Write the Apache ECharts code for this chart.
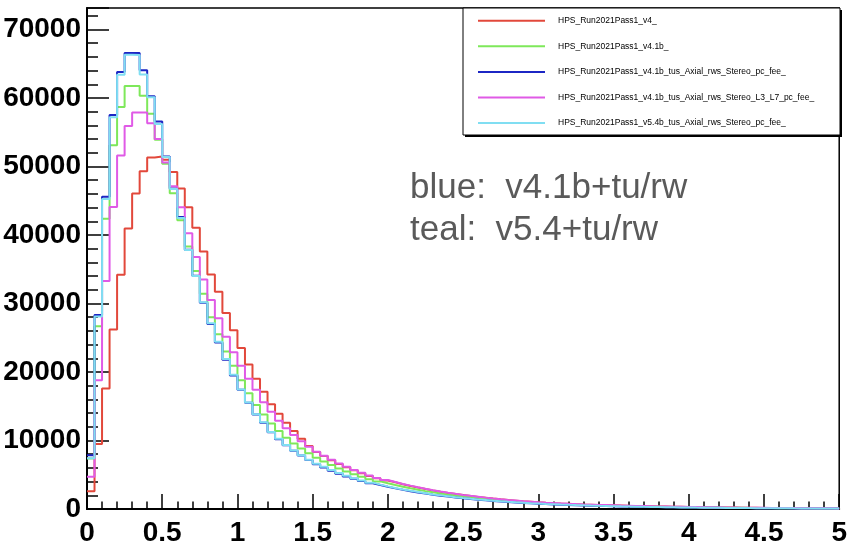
<!DOCTYPE html>
<html>
<head>
<meta charset="utf-8">
<script src="https://cdn.jsdelivr.net/npm/echarts@6/dist/echarts.min.js"></script>
<style>
html,body{margin:0;padding:0;background:#fff;}
#chart{width:850px;height:547px;}
</style>
</head>
<body>
<div id="chart"></div>
<script>
// Histogram: 100 bins of width 0.05 from 0 to 5
const binWidth = 0.05;
const xTicks = [0, 0.5, 1, 1.5, 2, 2.5, 3, 3.5, 4, 4.5, 5];
const yTicks = [0, 10000, 20000, 30000, 40000, 50000, 60000, 70000];

const seriesNames = [
  "HPS_Run2021Pass1_v4_",
  "HPS_Run2021Pass1_v4.1b_",
  "HPS_Run2021Pass1_v4.1b_tus_Axial_rws_Stereo_pc_fee_",
  "HPS_Run2021Pass1_v4.1b_tus_Axial_rws_Stereo_L3_L7_pc_fee_",
  "HPS_Run2021Pass1_v5.4b_tus_Axial_rws_Stereo_pc_fee_"
];

const redV4 = [
  2600, 9500, 17600, 26200, 34200, 40950, 46050, 49300, 51300, 51450,
  51000, 49200, 46800, 44050, 41050, 37600, 34250, 31700, 28600, 26100,
  23500, 21100, 19000, 17100, 15300, 13900, 12600, 11400, 10250, 9200,
  8330, 7720, 7120, 6580, 6090, 5640, 5220, 4830, 4480, 4170,
  3900, 3620, 3370, 3130, 2910, 2700, 2510, 2340, 2180, 2030,
  1890, 1760, 1640, 1520, 1410, 1310, 1220, 1130, 1050, 970,
  900, 845, 795, 750, 705, 665, 630, 595, 565, 535,
  505, 475, 450, 425, 400, 375, 355, 335, 315, 295,
  275, 260, 245, 230, 218, 205, 193, 182, 172, 162,
  152, 143, 135, 127, 120, 113, 106, 100, 94, 88
];

const greenV41b = [
  7380, 26670, 42380, 53100, 58670, 61760, 61760, 60330, 57710, 53900,
  50400, 46100, 42140, 38330, 34760, 31430, 28000, 25500, 23000, 20900,
  18800, 16900, 15200, 13800, 12500, 11400, 10400, 9550, 8850, 8150,
  7500, 6950, 6420, 5930, 5490, 5080, 4700, 4350, 4030, 3750,
  3490, 3250, 3020, 2810, 2610, 2430, 2260, 2100, 1960, 1830,
  1700, 1580, 1470, 1370, 1275, 1185, 1100, 1020, 950, 880,
  820, 768, 720, 676, 635, 597, 562, 528, 497, 468,
  440, 414, 390, 367, 345, 325, 306, 288, 271, 255,
  240, 226, 213, 200, 188, 177, 167, 157, 148, 139,
  131, 123, 116, 109, 103, 97, 91, 86, 81, 76
];

const blueV41bTus = [
  7860, 28330, 45570, 57520, 63810, 66570, 66570, 64050, 60240, 56570,
  51450, 46800, 42620, 37860, 34050, 30100, 27000, 24300, 21800, 19500,
  17400, 15500, 13800, 12600, 11200, 10200, 9300, 8500, 7800, 7150,
  6550, 6050, 5580, 5150, 4760, 4400, 4070, 3770, 3490, 3240,
  3010, 2800, 2600, 2420, 2250, 2090, 1950, 1810, 1690, 1570,
  1460, 1360, 1270, 1180, 1100, 1025, 955, 890, 830, 775,
  720, 675, 632, 592, 555, 520, 488, 458, 430, 404,
  379, 356, 334, 314, 295, 277, 260, 244, 229, 215,
  202, 190, 179, 168, 158, 149, 140, 132, 124, 117,
  110, 103, 97, 91, 86, 81, 76, 72, 68, 64
];

const magentaL3L7 = [
  4700, 18800, 33300, 44100, 51600, 55900, 57900, 57900, 56300, 54000,
  50600, 47100, 44050, 40250, 36800, 33500, 30500, 27850, 25150, 22900,
  20900, 19000, 17400, 15600, 14200, 12900, 11800, 10800, 9900, 9100,
  8350, 7760, 7180, 6640, 6150, 5700, 5280, 4890, 4540, 4220,
  3940, 3660, 3410, 3170, 2950, 2740, 2550, 2370, 2210, 2060,
  1920, 1790, 1660, 1540, 1430, 1330, 1240, 1150, 1070, 990,
  920, 860, 810, 760, 715, 675, 638, 602, 570, 540,
  510, 482, 455, 430, 405, 382, 360, 340, 320, 300,
  282, 265, 250, 235, 222, 209, 197, 186, 175, 165,
  155, 146, 138, 130, 122, 115, 108, 102, 96, 90
];

const tealV54bTus = [
  7400, 28100, 45240, 57200, 63400, 66300, 66290, 63430, 60100, 56200,
  51400, 46700, 42500, 37800, 34000, 30200, 27100, 24400, 21900, 19600,
  17450, 15550, 13850, 12650, 11250, 10250, 9350, 8550, 7850, 7200,
  6600, 6170, 5690, 5250, 4860, 4490, 4150, 3850, 3560, 3300,
  3070, 2860, 2650, 2470, 2300, 2130, 1990, 1850, 1720, 1600,
  1490, 1390, 1300, 1200, 1120, 1045, 975, 910, 845, 790,
  735, 690, 645, 604, 566, 530, 498, 467, 439, 412,
  387, 363, 341, 320, 301, 283, 265, 249, 234, 219,
  206, 194, 183, 171, 161, 152, 143, 135, 126, 119,
  112, 105, 99, 93, 88, 83, 78, 73, 69, 65
];

const seriesValues = [redV4, greenV41b, blueV41bTus, magentaL3L7, tealV54bTus];
const seriesColors = ['#e2483b', '#7ee85a', '#1c26c4', '#e05ae6', '#80def2'];

function histPoints(vals) {
  const pts = vals.map((v, i) => [+(i * binWidth).toFixed(4), v]);
  pts.push([+(vals.length * binWidth).toFixed(4), vals[vals.length - 1]]);
  return pts;
}

const chart = echarts.init(document.getElementById('chart'), null, {renderer: 'canvas'});
const font = 'Liberation Sans';

const option = {
  animation: false,
  backgroundColor: '#fff',
  grid: {
    left: 87, right: 8, top: 8, bottom: 27,
    show: true, borderColor: '#000', borderWidth: 1.5, backgroundColor: 'transparent'
  },
  xAxis: {
    type: 'value', min: xTicks[0], max: xTicks[xTicks.length - 1], interval: 0.5,
    axisLine: {show: true, onZero: false, lineStyle: {color: '#000', width: 2}},
    axisTick: {show: true, inside: true, length: 15, lineStyle: {color: '#000', width: 1.5}},
    minorTick: {show: true, splitNumber: 5, length: 7.5, lineStyle: {color: '#000', width: 1.5}},
    splitLine: {show: false},
    axisLabel: {
      margin: 10, color: '#000', fontFamily: font, fontWeight: 'bold', fontSize: 28,
      formatter: v => String(v)
    }
  },
  yAxis: {
    type: 'value', min: yTicks[0], max: 73140, interval: 10000,
    axisLine: {show: true, onZero: false, lineStyle: {color: '#000', width: 2}},
    axisTick: {show: true, inside: true, length: 22, lineStyle: {color: '#000', width: 1.5}},
    minorTick: {show: true, splitNumber: 5, length: 11, lineStyle: {color: '#000', width: 1.5}},
    splitLine: {show: false},
    axisLabel: {
      margin: 6, color: '#000', fontFamily: font, fontWeight: 'bold', fontSize: 28,
      padding: [0, 0, 8, 0],
      showMaxLabel: false,
      formatter: v => (yTicks.indexOf(v) >= 0 ? String(v) : '')
    }
  },
  legend: {
    orient: 'vertical', left: 478, top: 14.7,
    itemWidth: 67, itemHeight: 2, itemGap: 13.6,
    icon: 'rect', selectedMode: false, padding: 0, z: 20,
    textStyle: {fontSize: 8.5, fontFamily: font, color: '#000', lineHeight: 12, padding: [0, 0, 0, 8]},
    data: seriesNames
  },
  graphic: [
    {type: 'rect', z: 15, shape: {x: 465, y: 10, width: 377, height: 127}, style: {fill: '#000'}},
    {type: 'rect', z: 16, shape: {x: 463, y: 8, width: 377, height: 127}, style: {fill: '#fff', stroke: '#000', lineWidth: 1}},
    {type: 'text', z: 16, x: 410, y: 188, style: {text: 'blue:  v4.1b+tu/rw', fontSize: 35, fontFamily: font, fill: '#5a5a5a', verticalAlign: 'middle'}},
    {type: 'text', z: 16, x: 410, y: 230, style: {text: 'teal:  v5.4+tu/rw', fontSize: 35, fontFamily: font, fill: '#5a5a5a', verticalAlign: 'middle'}}
  ],
  series: seriesNames.map((name, k) => ({
    name: name,
    type: 'line',
    step: 'end',
    showSymbol: false,
    symbol: 'none',
    data: histPoints(seriesValues[k]),
    itemStyle: {color: seriesColors[k]},
    lineStyle: {color: seriesColors[k], width: 2},
    z: 2 + k
  }))
};
chart.setOption(option);
</script>
</body>
</html>
